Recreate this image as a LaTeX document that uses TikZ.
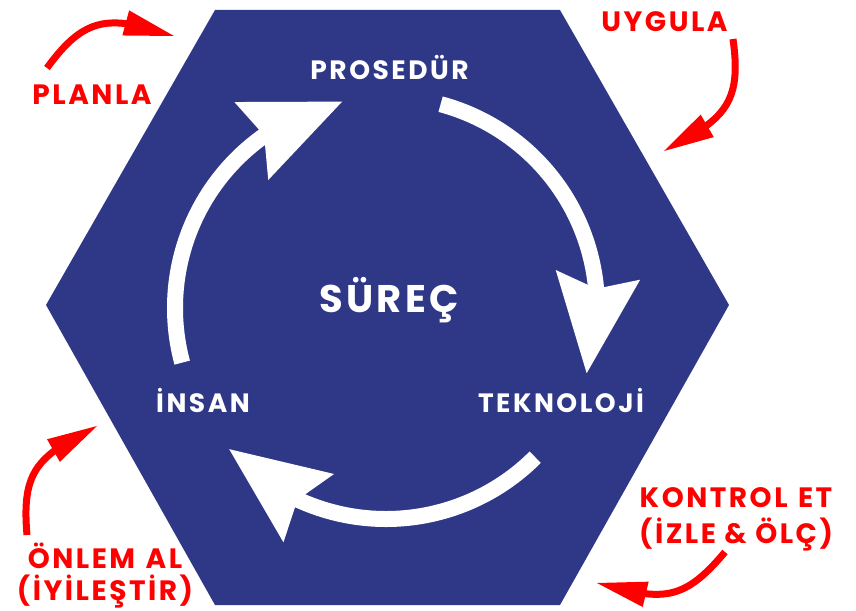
\documentclass[tikz,border=0pt]{standalone}
\usepackage{fontspec}
\setmainfont{Poppins}
\usetikzlibrary{arrows.meta,bending}
\definecolor{hexblue}{RGB}{47,56,135}
\definecolor{hexred}{RGB}{255,0,0}
\begin{document}
\begin{tikzpicture}[x=1pt,y=1pt,
  cyclearrow/.style={draw=white, line width=16pt,
    -{Stealth[length=99pt,width=85pt,inset=14pt,line width=0pt]}},
  redarrow/.style={draw=hexred, line width=7pt, looseness=1.3,
    -{Triangle[length=50pt,width=26pt,line width=0pt]}},
  whitelabel/.style={text=white, anchor=base, inner sep=0pt,
    font=\bfseries\fontsize{26.5}{30}\selectfont\addfontfeatures{LetterSpace=9.5}},
  biglabel/.style={text=white, anchor=base, inner sep=0pt,
    font=\bfseries\fontsize{38.5}{44}\selectfont\addfontfeatures{LetterSpace=9}},
  redlabel/.style={text=hexred, anchor=base, inner sep=0pt,
    font=\bfseries\fontsize{28}{32}\selectfont\addfontfeatures{LetterSpace=9}}
]
\useasboundingbox (0,0) rectangle (856,-610);
% hexagon
\fill[hexblue] (215,-10) -- (560,-10) -- (729,-305) -- (560,-605)
  -- (215,-605) -- (46,-305) -- cycle;
% cycle arrows
\coordinate (C) at (386,-308);
\draw[cyclearrow] ([shift={(75:211pt)}]C) arc[start angle=75,end angle=-18,radius=211pt];
\draw[cyclearrow] ([shift={(-45:211pt)}]C) arc[start angle=-45,end angle=-138,radius=211pt];
\draw[cyclearrow] ([shift={(195:211pt)}]C) arc[start angle=195,end angle=102,radius=211pt];
% white labels
\node[whitelabel] (proc) at (389.5,-79) {PROSEDÜR};
\node[biglabel] (surec) at (389,-312) {SÜREÇ};
\node[whitelabel] (insan) at (203,-412) {İNSAN};
\node[whitelabel] (tekno) at (561,-412) {TEKNOLOJİ};
% red labels
\node[redlabel] (planla) at (92,-104) {PLANLA};
\node[redlabel] (uygula) at (664.5,-32) {UYGULA};
\node[redlabel] (kontrol1) at (736,-507) {KONTROL\hspace{2pt} ET};
\node[redlabel] (kontrol2) at (736,-543) {(İZLE \& ÖLÇ)};
\node[redlabel] (onlem1) at (105,-568) {ÖNLEM\hspace{2pt} AL};
\node[redlabel] (onlem2) at (105,-600) {(İYİLEŞTİR)};
% red arrows
\coordinate (pA) at (47,-68);   \coordinate (pB) at (174,-36);
\coordinate (uA) at (733,-39);  \coordinate (uB) at (664,-151);
\coordinate (kA) at (725,-552); \coordinate (kB) at (597,-583);
\coordinate (oA) at (27,-535);  \coordinate (oB) at (97,-426);
\draw[redarrow] (pA) to[out=54,in=162] (pB);
\draw[redarrow] (uA) to[out=-82,in=28] (uB);
\draw[redarrow] (kA) to[out=230,in=-15] (kB);
\draw[redarrow] (oA) to[out=95,in=207] (oB);
\end{tikzpicture}
\end{document}
